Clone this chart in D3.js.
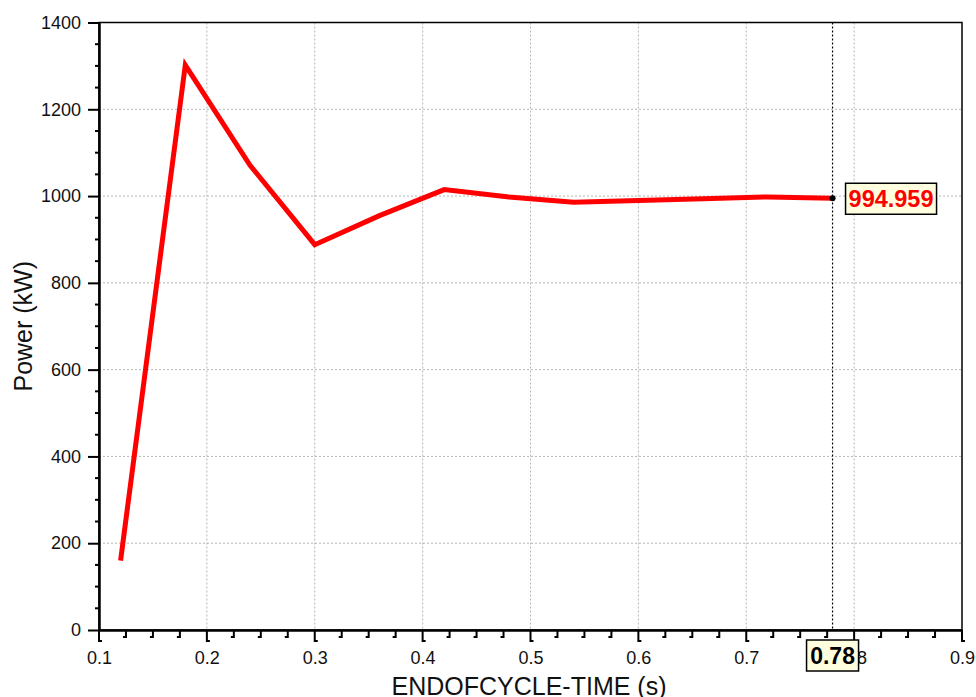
<!DOCTYPE html>
<html>
<head>
<meta charset="utf-8">
<script src="https://cdn.jsdelivr.net/npm/d3@7"></script>
<style>
  html, body { margin: 0; padding: 0; background: #fff; }
  svg { display: block; font-family: "Liberation Sans", Arial, sans-serif; }
</style>
</head>
<body>
<svg id="chart" width="976" height="697"></svg>
<script>
// ---- data ----
const times  = [0.12, 0.18, 0.24, 0.30, 0.36, 0.42, 0.48, 0.54, 0.60, 0.66, 0.72, 0.78];
const power  = [160, 1302, 1071, 888, 955, 1015, 998, 986, 990, 994, 998, 994.959];
const xTicks = [0.1, 0.2, 0.3, 0.4, 0.5, 0.6, 0.7, 0.8, 0.9];
const yTicks = [0, 200, 400, 600, 800, 1000, 1200, 1400];
const cursorX = 0.78;
const cursorY = 994.959;
const xTitle = "ENDOFCYCLE-TIME (s)";
const yTitle = "Power (kW)";

const svg = d3.select("#chart");
const L = 99, R = 962, T = 22.5, B = 630;
const x = d3.scaleLinear().domain([0.1, 0.9]).range([L, R]);
const y = d3.scaleLinear().domain([0, 1400]).range([B, T]);

// grid
const grid = svg.append("g");
grid.selectAll("line.gx").data(xTicks.slice(1, -1)).join("line")
  .attr("x1", d => x(d)).attr("x2", d => x(d)).attr("y1", T).attr("y2", B)
  .attr("stroke", "#b5b5b5").attr("stroke-width", 1).attr("stroke-dasharray", "2,2");
grid.selectAll("line.gy").data(yTicks.slice(1, -1)).join("line")
  .attr("y1", d => y(d)).attr("y2", d => y(d)).attr("x1", L).attr("x2", R)
  .attr("stroke", "#b5b5b5").attr("stroke-width", 1).attr("stroke-dasharray", "2,2");

// frame
svg.append("rect").attr("x", L).attr("y", T).attr("width", R - L).attr("height", B - T)
  .attr("fill", "none").attr("stroke", "#000").attr("stroke-width", 1.5);

// y axis
const yAxis = d3.axisLeft(y).tickValues(yTicks).tickSize(11).tickSizeOuter(0).tickFormat(d3.format("d"));
const gy = svg.append("g").attr("transform", `translate(${L},0)`).call(yAxis);
gy.select(".domain").attr("stroke-width", 2.5);
gy.selectAll(".tick line").attr("stroke-width", 2);
gy.selectAll(".tick text").attr("font-size", 18).attr("font-family", "Liberation Sans, Arial, sans-serif").attr("fill", "#111").attr("x", -18);
const yMinor = d3.range(0, 1401, 50).filter(v => v % 200 !== 0);
svg.append("g").selectAll("line").data(yMinor).join("line")
  .attr("x1", L - 4).attr("x2", L).attr("y1", d => y(d)).attr("y2", d => y(d))
  .attr("stroke", "#000").attr("stroke-width", 2);

// x axis
const xAxis = d3.axisBottom(x).tickValues(xTicks).tickSize(0).tickSizeOuter(0).tickFormat(d3.format(".1f"));
const gx = svg.append("g").attr("transform", `translate(0,${B})`).call(xAxis);
gx.select(".domain").attr("stroke-width", 2.5);
gx.selectAll(".tick text").attr("font-size", 18).attr("font-family", "Liberation Sans, Arial, sans-serif").attr("fill", "#111").attr("dy", "1.7em");
// hook-shaped ticks
svg.append("g").selectAll("path").data(xTicks).join("path")
  .attr("d", d => `M${x(d)},${B} V${B + 11} h3`)
  .attr("fill", "none").attr("stroke", "#000").attr("stroke-width", 2);
const xMinor = d3.range(0.1, 0.9001, 0.025).filter(v => Math.abs(v * 10 - Math.round(v * 10)) > 1e-6);
svg.append("g").selectAll("path").data(xMinor).join("path")
  .attr("d", d => `M${x(d)},${B} V${B + 7} h-3`)
  .attr("fill", "none").attr("stroke", "#000").attr("stroke-width", 2);

// axis titles
svg.append("text").attr("x", 529).attr("y", 695).attr("text-anchor", "middle")
  .attr("font-size", 25).attr("fill", "#111").text(xTitle);
svg.append("text").attr("transform", `translate(32,${(T + B) / 2}) rotate(-90)`).attr("text-anchor", "middle")
  .attr("font-size", 25).attr("fill", "#111").text(yTitle);

// line
const line = d3.line().x((d, i) => x(times[i])).y(d => y(d));
svg.append("path").datum(power).attr("d", line)
  .attr("fill", "none").attr("stroke", "#ff0000").attr("stroke-width", 5)
  .attr("stroke-linejoin", "miter").attr("stroke-linecap", "butt");

// cursor
svg.append("line").attr("x1", x(cursorX)).attr("x2", x(cursorX)).attr("y1", T).attr("y2", B)
  .attr("stroke", "#000").attr("stroke-width", 1.2).attr("stroke-dasharray", "2,2");
svg.append("circle").attr("cx", x(cursorX)).attr("cy", y(cursorY)).attr("r", 3).attr("fill", "#000");

// value label
const vx = x(cursorX) + 13, vy = y(cursorY);
const vg = svg.append("g");
vg.append("rect").attr("x", vx).attr("y", vy - 15).attr("width", 91).attr("height", 31)
  .attr("fill", "#ffffe0").attr("stroke", "#000").attr("stroke-width", 1.5);
vg.append("text").attr("x", vx + 45.5).attr("y", vy + 8.5).attr("text-anchor", "middle")
  .attr("font-size", 23.5).attr("font-weight", "bold").attr("fill", "#ff0000").text(d3.format(".3f")(cursorY));

// x cursor label
const lx = x(cursorX) - 26;
const lg = svg.append("g");
lg.append("rect").attr("x", lx).attr("y", 640).attr("width", 52).attr("height", 31)
  .attr("fill", "#ffffe0").attr("stroke", "#000").attr("stroke-width", 1.5);
lg.append("text").attr("x", lx + 26).attr("y", 664).attr("text-anchor", "middle")
  .attr("font-size", 23).attr("font-weight", "bold").attr("fill", "#000").text(String(cursorX));
</script>
</body>
</html>
